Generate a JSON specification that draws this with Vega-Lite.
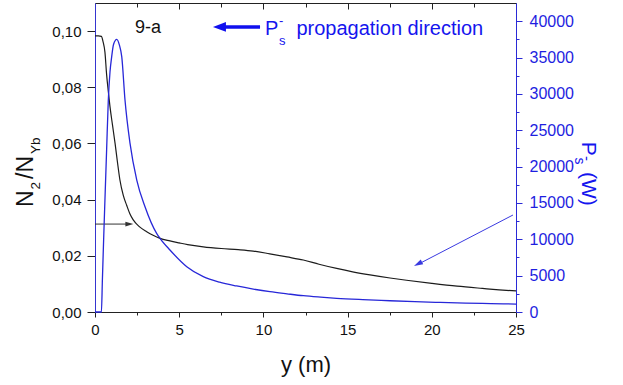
{
  "$schema": "https://vega.github.io/schema/vega-lite/v6.json",
  "width": 421,
  "height": 309,
  "autosize": {"type": "none"},
  "padding": {"left": 95, "top": 3, "right": 107, "bottom": 73},
  "background": "white",
  "config": {
    "view": {"stroke": null},
    "font": "Liberation Sans",
    "axis": {"grid": false, "labelFont": "Liberation Sans", "titleFont": "Liberation Sans", "titleFontWeight": "normal", "labelOverlap": false, "labelFlush": false, "labelBound": false}
  },
  "datasets": {
    "n2": [
      {"y_m": 0, "ratio": 0.0983}, {"y_m": 0.2, "ratio": 0.0983}, {"y_m": 0.38, "ratio": 0.0981},
      {"y_m": 0.48, "ratio": 0.0962}, {"y_m": 0.59, "ratio": 0.0925}, {"y_m": 0.69, "ratio": 0.0845},
      {"y_m": 0.79, "ratio": 0.0785}, {"y_m": 0.89, "ratio": 0.0731}, {"y_m": 1.04, "ratio": 0.0665},
      {"y_m": 1.19, "ratio": 0.0601}, {"y_m": 1.33, "ratio": 0.0535}, {"y_m": 1.48, "ratio": 0.047},
      {"y_m": 1.68, "ratio": 0.0415}, {"y_m": 1.88, "ratio": 0.038}, {"y_m": 2.07, "ratio": 0.035},
      {"y_m": 2.27, "ratio": 0.0328}, {"y_m": 2.65, "ratio": 0.0303}, {"y_m": 3.07, "ratio": 0.0286},
      {"y_m": 3.45, "ratio": 0.0273}, {"y_m": 3.86, "ratio": 0.0262}, {"y_m": 4.45, "ratio": 0.0253},
      {"y_m": 5.0, "ratio": 0.0246}, {"y_m": 5.5, "ratio": 0.024}, {"y_m": 6.43, "ratio": 0.0232},
      {"y_m": 7.5, "ratio": 0.0226}, {"y_m": 8.5, "ratio": 0.0222}, {"y_m": 9.39, "ratio": 0.0217},
      {"y_m": 10.38, "ratio": 0.0207}, {"y_m": 11.4, "ratio": 0.0196}, {"y_m": 12.37, "ratio": 0.0185},
      {"y_m": 13.3, "ratio": 0.017}, {"y_m": 14.35, "ratio": 0.0155}, {"y_m": 15.3, "ratio": 0.0143},
      {"y_m": 16.33, "ratio": 0.0132}, {"y_m": 17.52, "ratio": 0.0121}, {"y_m": 18.5, "ratio": 0.0113},
      {"y_m": 20, "ratio": 0.0102}, {"y_m": 21.5, "ratio": 0.0092}, {"y_m": 23, "ratio": 0.0084},
      {"y_m": 24, "ratio": 0.0079}, {"y_m": 25, "ratio": 0.0075}
    ],
    "ps": [
      {"y_m": 0, "power": 0}, {"y_m": 0.38, "power": 0}, {"y_m": 0.44, "power": 4500},
      {"y_m": 0.52, "power": 10500}, {"y_m": 0.59, "power": 15400}, {"y_m": 0.69, "power": 22300},
      {"y_m": 0.79, "power": 29100}, {"y_m": 0.89, "power": 33000}, {"y_m": 0.99, "power": 35100},
      {"y_m": 1.1, "power": 36800}, {"y_m": 1.29, "power": 37500}, {"y_m": 1.45, "power": 36700},
      {"y_m": 1.59, "power": 35100}, {"y_m": 1.78, "power": 29200}, {"y_m": 2.08, "power": 23200},
      {"y_m": 2.48, "power": 18150}, {"y_m": 2.97, "power": 14480}, {"y_m": 3.66, "power": 10820},
      {"y_m": 3.86, "power": 10140}, {"y_m": 4.45, "power": 8530}, {"y_m": 5.45, "power": 6230},
      {"y_m": 6.43, "power": 4860}, {"y_m": 7.4, "power": 4100}, {"y_m": 8.41, "power": 3580},
      {"y_m": 9.4, "power": 3150}, {"y_m": 10.39, "power": 2790}, {"y_m": 11.4, "power": 2500},
      {"y_m": 12.37, "power": 2240}, {"y_m": 13.4, "power": 2040}, {"y_m": 14.35, "power": 1880},
      {"y_m": 15.9, "power": 1700}, {"y_m": 17.52, "power": 1550}, {"y_m": 19, "power": 1420},
      {"y_m": 20.5, "power": 1320}, {"y_m": 22, "power": 1230}, {"y_m": 23.5, "power": 1160},
      {"y_m": 25, "power": 1090}
    ]
  },
  "layer": [
    {
      "layer": [
        {
          "data": {"name": "n2"},
          "mark": {"type": "line", "color": "#1c1c1c", "strokeWidth": 1.2, "interpolate": "monotone"},
          "encoding": {
            "x": {
              "field": "y_m", "type": "quantitative",
              "scale": {"domain": [0, 25], "nice": false, "zero": false},
              "axis": {
                "orient": "bottom",
                "values": [0, 2.5, 5, 7.5, 10, 12.5, 15, 17.5, 20, 22.5, 25],
                "labelExpr": "datum.value % 5 ? '' : format(datum.value, 'd')",
                "tickSize": {"condition": {"test": "datum.value % 5 !== 0", "value": 3}, "value": 5},
                "labelFontSize": 15, "labelPadding": 5, "labelColor": "#111",
                "domainColor": "#222", "tickColor": "#222",
                "title": "y (m)", "titleFontSize": 22, "titleColor": "#111", "titlePadding": 17
              }
            },
            "y": {
              "field": "ratio", "type": "quantitative",
              "scale": {"domain": [0, 0.11], "nice": false},
              "axis": {
                "orient": "left",
                "values": [0, 0.01, 0.02, 0.03, 0.04, 0.05, 0.06, 0.07, 0.08, 0.09, 0.1],
                "labelExpr": "round(datum.value * 100) % 2 ? '' : replace(format(datum.value, '.2f'), '.', ',')",
                "tickSize": {"condition": {"test": "round(datum.value * 100) % 2 === 1", "value": 4}, "value": 8},
                "labelFontSize": 15, "labelPadding": 6, "labelColor": "#111",
                "domainColor": "#3535cf", "tickColor": "#222",
                "title": null
              }
            }
          }
        },
        {
          "data": {"values": [{}]},
          "mark": {"type": "rule", "color": "#333333", "strokeWidth": 1},
          "encoding": {
            "x": {"datum": 0, "type": "quantitative"},
            "x2": {"datum": 1.9},
            "y": {"datum": 0.0313, "type": "quantitative"}
          }
        },
        {
          "data": {"values": [{}]},
          "mark": {"type": "point", "shape": "M1,0L-1,-0.6L-1,0.6Z", "filled": true, "size": 64, "color": "#333333", "opacity": 1, "strokeWidth": 0},
          "encoding": {
            "x": {"datum": 2.04, "type": "quantitative"},
            "y": {"datum": 0.0313, "type": "quantitative"}
          }
        },
        {
          "data": {"values": [{}]},
          "mark": {"type": "rule", "color": "#1010ee", "strokeWidth": 3.5},
          "encoding": {
            "x": {"datum": 7.6, "type": "quantitative"},
            "x2": {"datum": 9.8},
            "y": {"datum": 0.1015, "type": "quantitative"}
          }
        },
        {
          "data": {"values": [{}]},
          "mark": {"type": "point", "shape": "M-1,0L1,-0.75L1,0.75Z", "filled": true, "size": 169, "color": "#1010ee", "opacity": 1, "strokeWidth": 0},
          "encoding": {
            "x": {"datum": 7.39, "type": "quantitative"},
            "y": {"datum": 0.1015, "type": "quantitative"}
          }
        },
        {
          "data": {"values": [{}]},
          "mark": {"type": "text", "text": "9-a", "fontSize": 18, "color": "#111111", "align": "left", "baseline": "alphabetic"},
          "encoding": {
            "x": {"datum": 2.37, "type": "quantitative"},
            "y": {"datum": 0.0993, "type": "quantitative"}
          }
        },
        {
          "data": {"values": [{}]},
          "mark": {"type": "text", "text": "P", "fontSize": 20, "color": "#1515ee", "align": "left", "baseline": "alphabetic"},
          "encoding": {
            "x": {"datum": 10.1, "type": "quantitative"},
            "y": {"datum": 0.0986, "type": "quantitative"}
          }
        },
        {
          "data": {"values": [{}]},
          "mark": {"type": "text", "text": "s", "fontSize": 13, "color": "#1515ee", "align": "left", "baseline": "alphabetic"},
          "encoding": {
            "x": {"datum": 10.93, "type": "quantitative"},
            "y": {"datum": 0.0951, "type": "quantitative"}
          }
        },
        {
          "data": {"values": [{}]},
          "mark": {"type": "text", "text": "-", "fontSize": 13, "color": "#1515ee", "align": "left", "baseline": "alphabetic"},
          "encoding": {
            "x": {"datum": 10.93, "type": "quantitative"},
            "y": {"datum": 0.1023, "type": "quantitative"}
          }
        },
        {
          "data": {"values": [{}]},
          "mark": {"type": "text", "text": "propagation direction", "fontSize": 20, "color": "#1515ee", "align": "left", "baseline": "alphabetic"},
          "encoding": {
            "x": {"datum": 11.96, "type": "quantitative"},
            "y": {"datum": 0.0986, "type": "quantitative"}
          }
        },
        {
          "data": {"values": [{}]},
          "mark": {"type": "text", "text": "N", "fontSize": 23, "angle": 270, "color": "#111111", "align": "left", "baseline": "alphabetic"},
          "encoding": {
            "x": {"datum": -3.664, "type": "quantitative"},
            "y": {"datum": 0.03738, "type": "quantitative"}
          }
        },
        {
          "data": {"values": [{}]},
          "mark": {"type": "text", "text": "2", "fontSize": 13.5, "angle": 270, "color": "#111111", "align": "left", "baseline": "alphabetic"},
          "encoding": {
            "x": {"datum": -3.266, "type": "quantitative"},
            "y": {"datum": 0.04361, "type": "quantitative"}
          }
        },
        {
          "data": {"values": [{}]},
          "mark": {"type": "text", "text": "/N", "fontSize": 23, "angle": 270, "color": "#111111", "align": "left", "baseline": "alphabetic"},
          "encoding": {
            "x": {"datum": -3.664, "type": "quantitative"},
            "y": {"datum": 0.04735, "type": "quantitative"}
          }
        },
        {
          "data": {"values": [{}]},
          "mark": {"type": "text", "text": "Yb", "fontSize": 13.5, "angle": 270, "color": "#111111", "align": "left", "baseline": "alphabetic"},
          "encoding": {
            "x": {"datum": -3.266, "type": "quantitative"},
            "y": {"datum": 0.05625, "type": "quantitative"}
          }
        }
      ]
    },
    {
      "layer": [
        {
          "data": {"name": "ps"},
          "mark": {"type": "line", "color": "#2727d8", "strokeWidth": 1.3, "interpolate": "monotone"},
          "encoding": {
            "x": {
              "field": "y_m", "type": "quantitative",
              "axis": {
                "orient": "top",
                "values": [0, 2.5, 5, 7.5, 10, 12.5, 15, 17.5, 20, 22.5, 25],
                "labels": false,
                "tickSize": {"condition": {"test": "datum.value % 5 !== 0", "value": -4}, "value": -6},
                "domainColor": "#222", "tickColor": "#222",
                "title": null
              }
            },
            "y": {
              "field": "power", "type": "quantitative",
              "scale": {"domain": [0, 42500], "nice": false},
              "axis": {
                "orient": "right",
                "values": [0, 5000, 10000, 15000, 20000, 25000, 30000, 35000, 40000],
                "format": "d",
                "tickSize": 6,
                "labelFontSize": 16, "labelPadding": 7, "labelColor": "#1e1ee0", "labelOverlap": false,
                "domainColor": "#2a2ad6", "tickColor": "#2a2ad6",
                "title": null
              }
            }
          }
        },
        {
          "data": {"values": [{}]},
          "mark": {"type": "rule", "color": "#3a3ae0", "strokeWidth": 1},
          "encoding": {
            "x": {"datum": 24.82, "type": "quantitative", "axis": null},
            "x2": {"datum": 19.3},
            "y": {
              "datum": 13341, "type": "quantitative",
              "axis": {
                "orient": "right",
                "values": [2500, 7500, 12500, 17500, 22500, 27500, 32500, 37500],
                "labels": false, "domain": false,
                "tickSize": 3, "tickColor": "#2a2ad6",
                "title": null
              }
            },
            "y2": {"datum": 6700}
          }
        },
        {
          "data": {"values": [{}]},
          "mark": {"type": "point", "shape": "M-1,0L1,-0.6L1,0.6Z", "filled": true, "size": 81, "angle": 332.7, "color": "#3a3ae0", "opacity": 1, "strokeWidth": 0},
          "encoding": {
            "x": {"datum": 19.18, "type": "quantitative", "axis": null},
            "y": {"datum": 6616, "type": "quantitative", "axis": null}
          }
        },
        {
          "data": {"values": [{}]},
          "mark": {"type": "text", "text": "P", "fontSize": 21, "angle": 90, "color": "#1515ee", "align": "left", "baseline": "alphabetic"},
          "encoding": {
            "x": {"datum": 28.89, "type": "quantitative", "axis": null},
            "y": {"datum": 23423, "type": "quantitative", "axis": null}
          }
        },
        {
          "data": {"values": [{}]},
          "mark": {"type": "text", "text": "s", "fontSize": 14, "angle": 90, "color": "#1515ee", "align": "left", "baseline": "alphabetic"},
          "encoding": {
            "x": {"datum": 28.5, "type": "quantitative", "axis": null},
            "y": {"datum": 21250, "type": "quantitative", "axis": null}
          }
        },
        {
          "data": {"values": [{}]},
          "mark": {"type": "text", "text": "-", "fontSize": 15, "angle": 90, "color": "#1515ee", "align": "left", "baseline": "alphabetic"},
          "encoding": {
            "x": {"datum": 28.89, "type": "quantitative", "axis": null},
            "y": {"datum": 21456, "type": "quantitative", "axis": null}
          }
        },
        {
          "data": {"values": [{}]},
          "mark": {"type": "text", "text": "(W)", "fontSize": 21, "angle": 90, "color": "#1515ee", "align": "left", "baseline": "alphabetic"},
          "encoding": {
            "x": {"datum": 28.89, "type": "quantitative", "axis": null},
            "y": {"datum": 19256, "type": "quantitative", "axis": null}
          }
        }
      ],
      "resolve": {"axis": {"x": "independent", "y": "independent"}}
    }
  ],
  "resolve": {"scale": {"y": "independent"}}
}
